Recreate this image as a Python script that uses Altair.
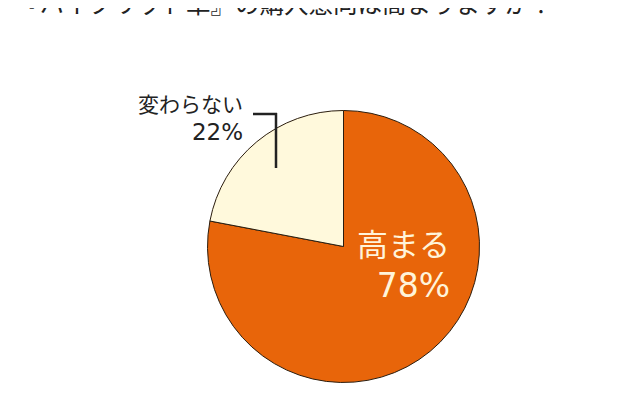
import altair as alt
import pandas as pd

# Data
categories = ["高まる", "変わらない"]
values = [78, 22]
slice_order = [0, 1]
colors = ["#E8650A", "#FFF9DC"]

title_text = "『ハイブリッド車』の購入意向は高まりますか？"
label_inside = ["高まる", "78%"]
label_outside = ["変わらない", "22%"]

df = pd.DataFrame({"category": categories, "value": values, "order": slice_order})

FONT = "Noto Sans CJK JP"
NUMFONT = "DejaVu Sans"
CX, CY, R = 335.5, 238.5, 136

pie = alt.Chart(df).mark_arc(radius=R, stroke="#2b1d0e", strokeWidth=1).encode(
    theta=alt.Theta("value:Q", stack=True),
    order=alt.Order("order:Q"),
    color=alt.Color("category:N", scale=alt.Scale(domain=categories, range=colors), legend=None),
    x=alt.value(CX),
    y=alt.value(CY),
)

base = alt.Chart(pd.DataFrame({"a": [0]}))

title = base.mark_text(
    text=title_text, font=FONT, fontSize=24.5, align="left", baseline="alphabetic", color="#222222"
).encode(x=alt.value(7), y=alt.value(4.5))

in1 = base.mark_text(
    text=label_inside[0], font=FONT, fontSize=31, align="right", baseline="alphabetic", color="#FFF4DA"
).encode(x=alt.value(442), y=alt.value(248))
in2 = base.mark_text(
    text=label_inside[1], font=NUMFONT, fontSize=33, align="right", baseline="alphabetic", color="#FFF4DA"
).encode(x=alt.value(442), y=alt.value(289))

out1 = base.mark_text(
    text=label_outside[0], font=FONT, fontSize=21, align="right", baseline="alphabetic", color="#222222"
).encode(x=alt.value(235), y=alt.value(104))
out2 = base.mark_text(
    text=label_outside[1], font=NUMFONT, fontSize=23, align="right", baseline="alphabetic", color="#222222"
).encode(x=alt.value(235), y=alt.value(132))

lead_h = base.mark_rule(color="#222222", strokeWidth=2.5).encode(
    x=alt.value(245), x2=alt.value(269), y=alt.value(106)
)
lead_v = base.mark_rule(color="#222222", strokeWidth=2.5).encode(
    x=alt.value(268), y=alt.value(105), y2=alt.value(160)
)

chart = alt.layer(pie, lead_h, lead_v, out1, out2, in1, in2, title).properties(
    width=624, height=384, padding=0, autosize=alt.AutoSizeParams(type="none"),
    background="white",
).configure_view(stroke=None)

chart.save("out.html", embed_options={"renderer": "svg", "actions": False})
